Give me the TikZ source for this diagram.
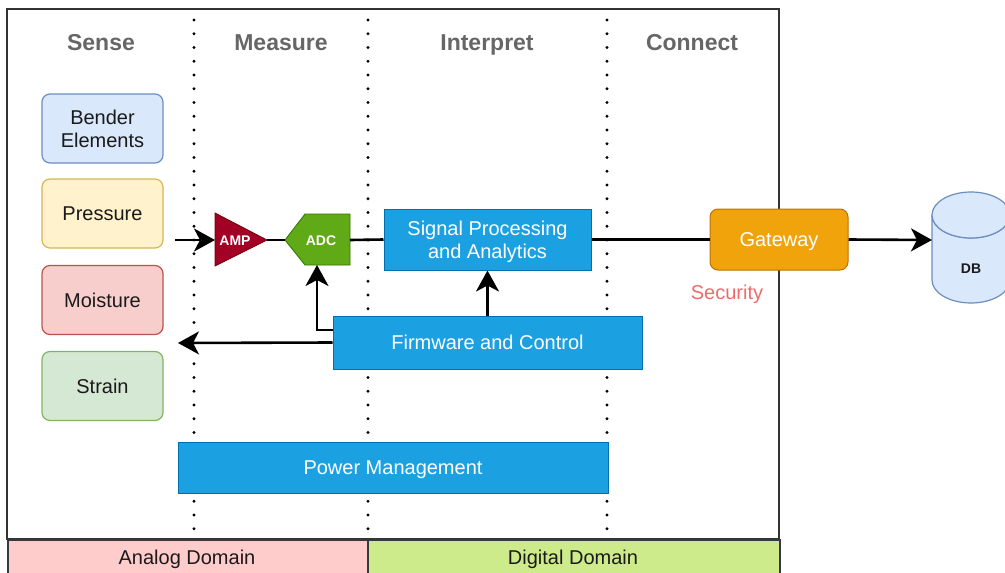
\documentclass[tikz,border=0pt]{standalone}
\usepackage{fontspec}
\setmainfont{Liberation Sans}
\usetikzlibrary{arrows.meta}

\definecolor{headgray}{HTML}{666666}
\definecolor{framegray}{HTML}{333333}
\definecolor{bargray}{HTML}{36393D}
\definecolor{textdark}{HTML}{1A1A1A}
\definecolor{benderfill}{HTML}{DAE8FC}\definecolor{benderedge}{HTML}{6C8EBF}
\definecolor{pressfill}{HTML}{FFF2CC}\definecolor{pressedge}{HTML}{D6B656}
\definecolor{moistfill}{HTML}{F8CECC}\definecolor{moistedge}{HTML}{B85450}
\definecolor{strainfill}{HTML}{D5E8D4}\definecolor{strainedge}{HTML}{82B366}
\definecolor{bluefill}{HTML}{1BA1E2}\definecolor{blueedge}{HTML}{006EAF}
\definecolor{ampfill}{HTML}{A20025}\definecolor{ampedge}{HTML}{6F0000}
\definecolor{adcfill}{HTML}{60A917}\definecolor{adcedge}{HTML}{2D7600}
\definecolor{gatefill}{HTML}{F0A30A}\definecolor{gateedge}{HTML}{BD7000}
\definecolor{securityred}{HTML}{F06A6A}
\definecolor{analogfill}{HTML}{FFCCCC}
\definecolor{digitalfill}{HTML}{CDEB8B}

\begin{document}
\begin{tikzpicture}[x=1pt,y=-1pt,
  % text boxes are sized to the capitals so that labels sit centred on their caps
  every node/.style={font=\fontsize{20}{23}\selectfont, align=center, inner sep=0pt,
    text height=14.4pt, text depth=0pt},
  twoline/.style={text height=37.4pt},
  head/.style={font=\fontsize{23}{26}\selectfont\bfseries, text=headgray, text height=16.5pt},
  sensor/.style={draw, rounded corners=8pt, line width=1.2pt,
    minimum width=121pt, minimum height=69pt, text=textdark},
  bluebox/.style={draw=blueedge, fill=bluefill, text=white, line width=1pt},
  divider/.style={line width=3.2pt, line cap=round, dash pattern=on 0pt off 13.75pt},
  link/.style={line width=2.6pt},
  flow/.style={link, -{Stealth[length=21pt,width=23pt,inset=6pt]}},
  chip/.style={font=\fontsize{14}{16}\selectfont\bfseries, text=white, text height=10pt},
  domainbar/.style={draw=bargray, line width=2pt, text=textdark},
]
\useasboundingbox (0,0) rectangle (1005,573);

% outer frame
\draw[framegray, line width=1.6pt] (7,9) rectangle (779,539);

% stage dividers
\foreach \x in {194,368,607}
  \draw[divider] (\x,20) -- (\x,530);

% stage headings
\node[head] (hsense)  at (101,42) {Sense};
\node[head] (hmeas)   at (281,42) {Measure};
\node[head] (hinterp) at (487,42) {Interpret};
\node[head] (hconn)   at (692,42) {Connect};

% sensors
\node[sensor, twoline, fill=benderfill, draw=benderedge] (bender) at (102.5,128.5) {Bender\\Elements};
\node[sensor, fill=pressfill,  draw=pressedge]  (pressure) at (102.5,213.5) {Pressure};
\node[sensor, fill=moistfill,  draw=moistedge]  (moisture) at (102.5,300) {Moisture};
\node[sensor, fill=strainfill, draw=strainedge] (strain)   at (102.5,386) {Strain};

% amplifier
\draw[ampedge, fill=ampfill, line width=0.8pt] (215,213) -- (267,240) -- (215,266) -- cycle;
\node[chip] (amp) at (235,240) {AMP};
\coordinate (ampin)  at (215,240);
\coordinate (ampout) at (267,240);

% converter
\draw[adcedge, fill=adcfill, line width=0.8pt]
  (285,240) -- (305,214) -- (350,214) -- (350,265) -- (305,265) -- cycle;
\node[chip] (adc) at (321,240) {ADC};
\coordinate (adcin)  at (285,240);
\coordinate (adcout) at (350,240);
\coordinate (adcbot) at (317,265);

% processing blocks
\node[bluebox, twoline, minimum width=207pt, minimum height=61pt] (sp) at (487.5,239.5) {Signal Processing\\and Analytics};
\node[bluebox, minimum width=309pt, minimum height=53pt] (fw) at (487.5,342.5) {Firmware and Control};
\node[bluebox, minimum width=430pt, minimum height=51pt] (pm) at (393,467.5) {Power Management};

% gateway and storage
\node[draw=gateedge, fill=gatefill, text=white, line width=1pt, rounded corners=8pt,
      minimum width=138pt, minimum height=61pt] (gw) at (779,239.5) {Gateway};
\node[text=securityred] (sec) at (727,292) {Security};

\draw[benderedge, fill=benderfill, line width=1.2pt]
  (932,215) arc[start angle=180, end angle=360, x radius=39pt, y radius=23pt]
  -- (1010,280) arc[start angle=0, end angle=-180, x radius=39pt, y radius=23pt] -- cycle;
\draw[benderedge, fill=benderfill, line width=1.2pt]
  (971,215) ellipse[x radius=39pt, y radius=23pt];
\node[chip, text=textdark] (db) at (971,268) {DB};
\coordinate (dbin) at (932,240);

% signal path
\coordinate (sensebus) at (175,240);
\draw[flow] (sensebus) -- (ampin);
\draw[link] (ampout) -- (adcin);
\draw[link] (adcout) -- (sp.west);
\draw[link] (sp.east) -- (gw.west);
\draw[flow] (gw.east) -- (dbin);

% control paths
\coordinate (sensectl) at (178,343);
\draw[flow] (fw.west) -- (sensectl);
\draw[flow] (fw.west |- 0,330) -| (adcbot);
\draw[flow] (fw.north) -- (sp.south);

% domains
\node[domainbar, fill=analogfill, minimum width=360pt, minimum height=40pt, anchor=north west] (analog) at (7,539) {};
\node[domainbar, fill=digitalfill, minimum width=412pt, minimum height=40pt, anchor=north west] (digital) at (367,539) {};
\node[text=textdark] (analogtxt)  at (187,557) {Analog Domain};
\node[text=textdark] (digitaltxt) at (573,557) {Digital Domain};
\end{tikzpicture}
\end{document}
